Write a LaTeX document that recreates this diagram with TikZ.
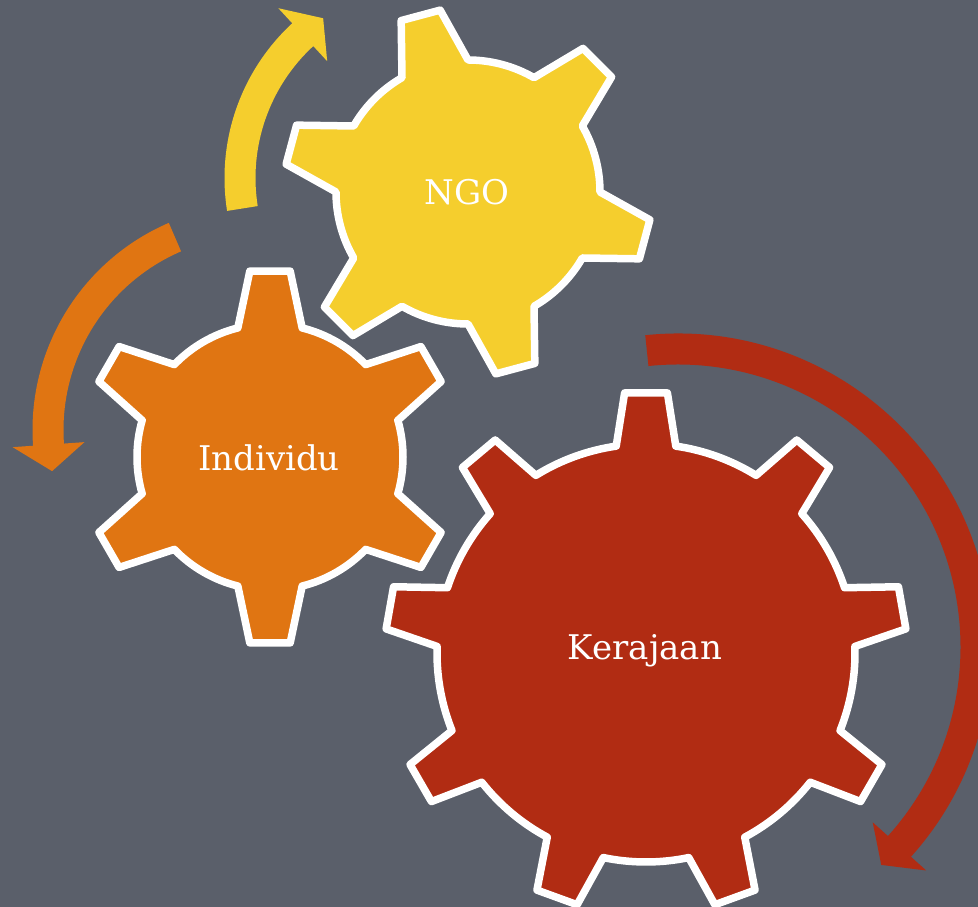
\documentclass[tikz,border=0pt]{standalone}
\usepackage{fontspec}
\setmainfont{DejaVu Serif}
\definecolor{slate}{HTML}{5A5F6A}
\definecolor{gearyellow}{HTML}{F5CE2D}
\definecolor{gearorange}{HTML}{E07512}
\definecolor{gearred}{HTML}{B12C13}
\tikzset{
	label/.style={text=white,font=\fontsize{34}{40}\selectfont,inner sep=0pt},
	% teeth, root radius, tip radius, half angle at root, half angle at tip, first tooth
	pics/gear/.style n args={6}{code={
			\draw[line width=7.5pt,draw=white,line join=round,pic actions]
			({#6+#4}:#2) \foreach \i [evaluate=\i as \a using #6-\i*360/#1] in {1,...,#1}{
				-- ({\a+360/#1+#4}:#2) -- ({\a+360/#1+#5}:#3) -- ({\a+360/#1-#5}:#3) -- ({\a+360/#1-#4}:#2)
				arc[start angle={\a+360/#1-#4},end angle={\a+#4},radius=#2]
			} -- cycle;
	}},
	% radius, start angle, neck angle, tip angle
	pics/bend/.style n args={4}{code={
			\fill[pic actions] ({#2}:#1+15.5) arc[start angle=#2,end angle=#3,radius=#1+15.5]
			-- ({#3}:#1+36) -- ({#4}:#1) -- ({#3}:#1-36) -- ({#3}:#1-15.5)
			arc[start angle=#3,end angle=#2,radius=#1-15.5] -- cycle;
	}}
}
\begin{document}
\begin{tikzpicture}[x=1pt,y=1pt]
	\fill[slate] (0,0) rectangle (978,907);
	\clip (0,0) rectangle (978,907);
	\path (435,729) pic[fill=gearyellow]{bend={195}{189}{132.7}{125}};
	\path (258,477) pic[fill=gearorange]{bend={210}{113.3}{184}{191.3}};
	\path (678,260) pic[fill=gearred]{bend={298}{96}{-42}{-47}};
	\path (468,715) pic[fill=gearyellow]{gear={6}{132}{184}{15}{6.3}{105}};
	\path (270,450) pic[fill=gearorange]{gear={6}{133}{187}{14}{6.2}{90}};
	\path (646,254) pic[fill=gearred]{gear={9}{209}{261}{8.2}{4.7}{90}};
	\node[label] (ngo) at (467,715) {NGO};
	\node[label] (individu) at (269,449) {Individu};
	\node[label] (kerajaan) at (645,256) {Kerajaan};
\end{tikzpicture}
\end{document}
